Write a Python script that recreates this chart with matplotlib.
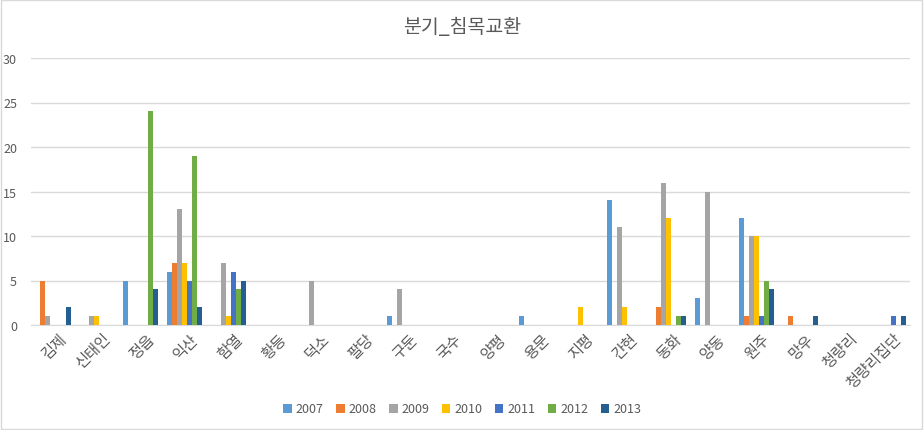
import matplotlib
matplotlib.use('Agg')
import matplotlib.pyplot as plt
import matplotlib.transforms as mtransforms
import numpy as np

plt.rcParams['font.family'] = ['Noto Sans CJK KR', 'DejaVu Sans']

stations = ['김제', '신태인', '정읍', '익산', '함열', '황등', '덕소', '팔당', '구둔', '국수',
            '양평', '용문', '지평', '간현', '동화', '양동', '원주', '망우', '청량리', '청량리집단']
years = ['2007', '2008', '2009', '2010', '2011', '2012', '2013']

v2007 = [0, 0, 5, 6, 0, 0, 0, 0, 1, 0, 0, 1, 0, 14, 0, 3, 12, 0, 0, 0]
v2008 = [5, 0, 0, 7, 0, 0, 0, 0, 0, 0, 0, 0, 0, 0, 2, 0, 1, 1, 0, 0]
v2009 = [1, 1, 0, 13, 7, 0, 5, 0, 4, 0, 0, 0, 0, 11, 16, 15, 10, 0, 0, 0]
v2010 = [0, 1, 0, 7, 1, 0, 0, 0, 0, 0, 0, 0, 2, 2, 12, 0, 10, 0, 0, 0]
v2011 = [0, 0, 0, 5, 6, 0, 0, 0, 0, 0, 0, 0, 0, 0, 0, 0, 1, 0, 0, 1]
v2012 = [0, 0, 24, 19, 4, 0, 0, 0, 0, 0, 0, 0, 0, 0, 1, 0, 5, 0, 0, 0]
v2013 = [2, 0, 4, 2, 5, 0, 0, 0, 0, 0, 0, 0, 0, 0, 1, 0, 4, 1, 0, 1]

series = [v2007, v2008, v2009, v2010, v2011, v2012, v2013]
colors = ['#5B9BD5', '#ED7D31', '#A5A5A5', '#FFC000', '#4472C4', '#70AD47', '#255E91']

fig = plt.figure(figsize=(9.24, 4.31), dpi=100)
ax = fig.add_axes([31/924, 1 - 326/431, (910 - 31)/924, (326 - 59)/431])

x = np.arange(len(stations))
w = 0.8 / 7
for i, (vals, c) in enumerate(zip(series, colors)):
    ax.bar(x - 0.4 + w/2 + i*w, vals, width=w*0.98, color=c, label=years[i], zorder=3)

ax.set_xlim(-0.5, len(stations) - 0.5)
ax.set_ylim(0, 30)
ax.set_yticks(range(0, 31, 5))
ax.yaxis.grid(True, color='#D9D9D9', linewidth=1, zorder=0)
for s in ['top', 'right', 'left']:
    ax.spines[s].set_visible(False)
ax.spines['bottom'].set_color('#D9D9D9')
ax.tick_params(axis='both', length=0, colors='#595959', labelsize=9)
ax.tick_params(axis='y', pad=10)
ax.set_xticks(x)
ax.set_xticklabels(stations, rotation=45, ha='right', rotation_mode='anchor', fontsize=11)
# nudge the rotated labels a little to the right, like Excel does
shift = mtransforms.ScaledTranslation(5/100, 0, fig.dpi_scale_trans)
for lab in ax.get_xticklabels():
    lab.set_transform(lab.get_transform() + shift)

fig.text(0.5, 1 - 28/431, '분기_침목교환', ha='center', va='center', fontsize=14, color='#595959')

leg = fig.legend(loc='center', bbox_to_anchor=(0.5, 1 - 410/431), ncol=7, frameon=False,
                 fontsize=9, handlelength=0.7, handleheight=0.7, columnspacing=1.0, handletextpad=0.3)
for t in leg.get_texts():
    t.set_color('#595959')

fig.patches.append(plt.Rectangle((0.001, 0.002), 0.997, 0.996, transform=fig.transFigure,
                                 fill=False, edgecolor='#D9D9D9', linewidth=1))

fig.savefig('out.png', dpi=100)
